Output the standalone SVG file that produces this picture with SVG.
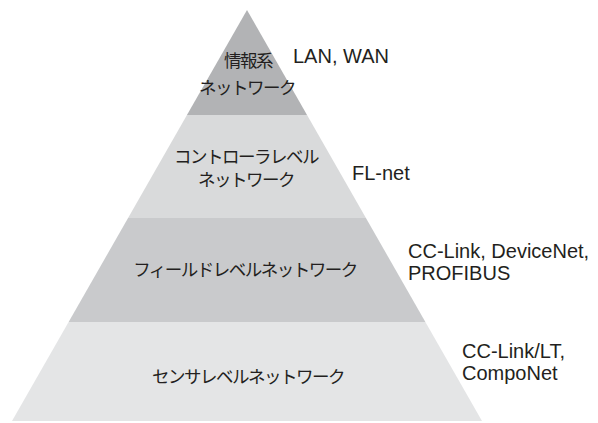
<svg xmlns="http://www.w3.org/2000/svg" width="598" height="423" viewBox="0 0 598 423">
<style>
.jp{font-family:"Noto Sans CJK JP","Noto Sans",sans-serif;font-size:17.5px;letter-spacing:-1.5px;fill:#231f20;text-anchor:middle}
.en{font-family:"Liberation Sans",Arial,sans-serif;font-size:20px;fill:#231f20}
</style>
<rect width="598" height="423" fill="#ffffff"/>
<g id="layer-info">
<polygon points="247,10 307.04,115 186.96,115" fill="#b2b3b5"/>
<text class="jp" x="248" y="66.5">情報系</text>
<text class="jp" x="247" y="93.5">ネットワーク</text>
<text class="en" x="293" y="63">LAN, WAN</text>
</g>
<g id="layer-controller">
<polygon points="186.96,115 307.04,115 365.93,218 128.07,218" fill="#d9dadb"/>
<text class="jp" x="246" y="163">コントローラレベル</text>
<text class="jp" x="246" y="185.5">ネットワーク</text>
<text class="en" x="352" y="180">FL-net</text>
</g>
<g id="layer-field">
<polygon points="128.07,218 365.93,218 425.39,322 68.61,322" fill="#c9cacc"/>
<text class="jp" x="245" y="275.5">フィールドレベルネットワーク</text>
<text class="en" x="408" y="258">CC-Link, DeviceNet,</text>
<text class="en" x="408" y="280">PROFIBUS</text>
</g>
<g id="layer-sensor">
<polygon points="68.61,322 425.39,322 482,421 12,421" fill="#e4e5e6"/>
<text class="jp" x="248" y="382.5">センサレベルネットワーク</text>
<text class="en" x="462" y="358">CC-Link/LT,</text>
<text class="en" x="462" y="380">CompoNet</text>
</g>
</svg>
